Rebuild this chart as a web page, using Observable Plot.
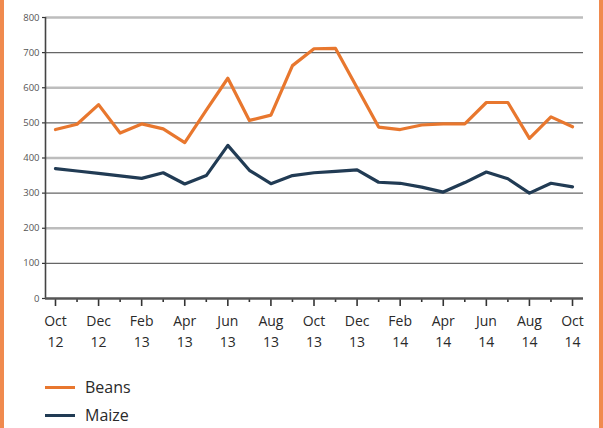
<!DOCTYPE html>
<html><head><meta charset="utf-8">
<script src="https://cdn.jsdelivr.net/npm/d3@7"></script>
<script src="https://cdn.jsdelivr.net/npm/@observablehq/plot@0.6"></script>
<style>
body{margin:0;background:#fff;}
#frame{width:603px;height:428px;box-sizing:border-box;border-left:4px solid #f08a4e;border-right:4px solid #f08a4e;position:relative;overflow:hidden;font-family:"Open Sans",sans-serif;background:#fff;}
#legend{position:absolute;left:41px;top:373px;}
.item{display:flex;align-items:center;height:28px;font-size:16px;color:#2a2a2a;}
.sw{width:30px;height:3px;margin-right:10px;}
</style></head><body><div id="frame"><div id="chart"></div><div id="legend"></div></div>
<script>
const months = ["2012-10","2012-11","2012-12","2013-01","2013-02","2013-03","2013-04","2013-05","2013-06","2013-07","2013-08","2013-09","2013-10","2013-11","2013-12","2014-01","2014-02","2014-03","2014-04","2014-05","2014-06","2014-07","2014-08","2014-09","2014-10"];
const beans = [481,496,552,471,497,483,444,536,627,507,522,663,711,712,600,488,481,494,497,497,558,558,456,517,489];
const maize = [370,363,356,349,342,358,326,350,436,365,327,350,358,362,366,331,328,317,303,330,360,341,300,328,318];
const tickLabels = ["Oct\n12","Dec\n12","Feb\n13","Apr\n13","Jun\n13","Aug\n13","Oct\n13","Dec\n13","Feb\n14","Apr\n14","Jun\n14","Aug\n14","Oct\n14"];
const yTicks = [0,100,200,300,400,500,600,700,800];
const gridLight = [200,400,600,800];
const gridDark = [100,300,500,700];
const series = [
  {name:"Beans", values:beans, color:"#e8772e"},
  {name:"Maize", values:maize, color:"#213b54"}
];

const data = series.flatMap(s => s.values.map((v,i) => ({series:s.name, i, month:months[i], value:v})));
const majorIdx = months.map((m,i)=>i).filter(i => i % 2 === 0);
const minorIdx = months.map((m,i)=>i).filter(i => i % 2 === 1);
const labelOf = new Map(majorIdx.map((i,k)=>[i, tickLabels[k]]));

const chart = Plot.plot({
  width: 595,
  height: 360,
  marginLeft: 41,
  marginRight: 16,
  marginTop: 17,
  marginBottom: 62,
  style: {fontFamily: "'Open Sans', sans-serif", background: "#fff"},
  x: {type: "linear", domain: [-0.464, 24.51], axis: null, label: null},
  y: {domain: [0, 800], axis: null, label: null},
  color: {domain: series.map(s=>s.name), range: series.map(s=>s.color)},
  marks: [
    Plot.ruleY(gridLight, {stroke: "#bdbdbd", strokeWidth: 2.5}),
    Plot.ruleY(gridDark, {stroke: "#666", strokeWidth: 1.2}),
    Plot.axisY({ticks: yTicks, label: null, tickSize: 3, tickPadding: 3, fontSize: 9.5, color: "#555", stroke: "#333", strokeWidth: 1.2}),
    Plot.ruleX([0], {x: () => -0.464, stroke: "#444", strokeWidth: 1.6}),
    Plot.axisX({ticks: minorIdx, label: null, tickSize: 4, tickFormat: () => "", stroke: "#333", strokeWidth: 1.6}),
    Plot.axisX({ticks: majorIdx, label: null, tickSize: 8, tickPadding: 5, tickFormat: d => labelOf.get(d), fontSize: 14, lineHeight: 1.5, color: "#2a2a2a", stroke: "#333", strokeWidth: 1.6}),
    Plot.ruleY([0], {stroke: "#555", strokeWidth: 2.5}),
    Plot.line(data, {x: "i", y: "value", z: "series", stroke: "series", strokeWidth: 3.2, strokeLinejoin: "round"})
  ]
});
document.getElementById("chart").appendChild(chart);

const legend = document.getElementById("legend");
for (const s of series) {
  const item = document.createElement("div");
  item.className = "item";
  const sw = document.createElement("span");
  sw.className = "sw";
  sw.style.background = s.color;
  const t = document.createElement("span");
  t.textContent = s.name;
  item.appendChild(sw); item.appendChild(t);
  legend.appendChild(item);
}
</script></body></html>
